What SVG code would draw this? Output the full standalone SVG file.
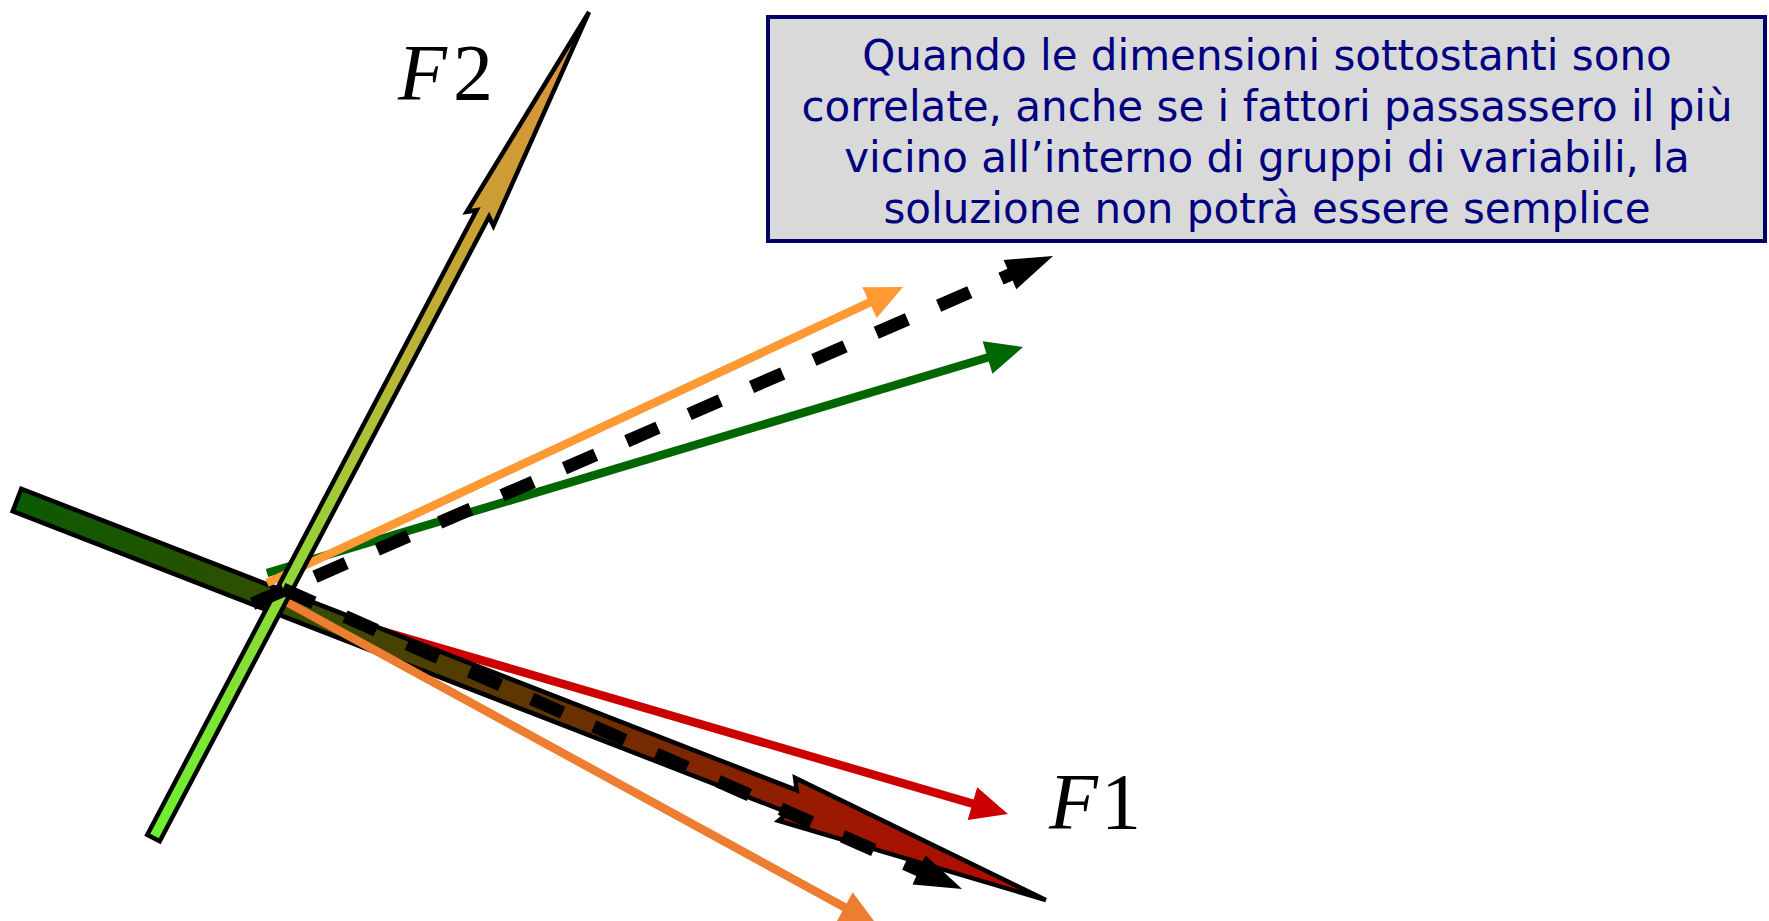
<svg xmlns="http://www.w3.org/2000/svg" width="1769" height="921" viewBox="0 0 1769 921">
<style>
.vec{fill:none;stroke-width:8.5;stroke-linecap:butt}
.dash{fill:none;stroke:#000;stroke-width:13;stroke-dasharray:34 34}
.axis{stroke:#000;stroke-width:4.5;stroke-linejoin:miter}
.lbl{font-family:"Liberation Serif","Times New Roman",serif;fill:#000}
.note{font-family:"DejaVu Sans",Verdana,sans-serif;font-size:42px;fill:#000080;text-anchor:middle}
</style>
<defs>
<linearGradient id="gF1" gradientUnits="userSpaceOnUse" x1="17" y1="500" x2="1046" y2="900">
<stop offset="0" stop-color="#0a5c00"/>
<stop offset="0.3" stop-color="#3a4a00"/>
<stop offset="0.55" stop-color="#6a3000"/>
<stop offset="0.8" stop-color="#9c1800"/>
<stop offset="1" stop-color="#b80800"/>
</linearGradient>
<linearGradient id="gF2" gradientUnits="userSpaceOnUse" x1="153" y1="838" x2="590" y2="12">
<stop offset="0" stop-color="#6cf030"/>
<stop offset="0.3" stop-color="#8ed838"/>
<stop offset="0.55" stop-color="#b8b838"/>
<stop offset="0.75" stop-color="#c8a033"/>
<stop offset="1" stop-color="#e0903a"/>
</linearGradient>
<marker id="hOrange" markerUnits="userSpaceOnUse" orient="auto" overflow="visible" markerWidth="1" markerHeight="1"><path d="M-1,-17 L36,0 L-1,17 Z" fill="#ff9933"/></marker>
<marker id="hGreen" markerUnits="userSpaceOnUse" orient="auto" overflow="visible" markerWidth="1" markerHeight="1"><path d="M-1,-17 L36,0 L-1,17 Z" fill="#006600"/></marker>
<marker id="hRed" markerUnits="userSpaceOnUse" orient="auto" overflow="visible" markerWidth="1" markerHeight="1"><path d="M-1,-17 L36,0 L-1,17 Z" fill="#cc0000"/></marker>
<marker id="hDarkOrange" markerUnits="userSpaceOnUse" orient="auto" overflow="visible" markerWidth="1" markerHeight="1"><path d="M-1,-17 L36,0 L-1,17 Z" fill="#ed7d31"/></marker>
<marker id="hBlack" markerUnits="userSpaceOnUse" orient="auto" overflow="visible" markerWidth="1" markerHeight="1"><path d="M-3,-16 L44,0 L-3,16 Z" fill="#000"/></marker>
</defs>
<rect width="1769" height="921" fill="#fff"/>
<g id="connectors-back">
<path class="vec" stroke="#cc0000" d="M279,601 L973.4,803.9" marker-end="url(#hRed)"/>
</g>
<g id="axis-f1">
<polygon class="axis" fill="url(#gF1)" points="21.3,488.8 796.7,790.2 795.1,777.9 1045.9,900 778.5,820.7 788.1,812.6 12.7,511.2"/>
</g>
<g id="connectors">
<path class="vec" stroke="#006600" d="M267,573 L988.5,357.3" marker-end="url(#hGreen)"/>
<path class="vec" stroke="#ff9933" d="M267,583 L870.4,302.2" marker-end="url(#hOrange)"/>
<path class="vec" stroke="#ed7d31" d="M283,600 L845.4,907.7" marker-end="url(#hDarkOrange)"/>
</g>
<g id="axis-f2">
<polygon class="axis" fill="url(#gF2)" stroke-width="4" points="147.3,834.7 476.6,210.2 466.8,211.8 589,12 493.4,225.8 489,216.8 159.7,841.3"/>
</g>
<g id="connectors-dashed">
<path class="dash" d="M252.6,603.8 L1012.7,273.5" marker-end="url(#hBlack)"/>
<path class="dash" d="M282.8,589 L921.8,871.2" marker-end="url(#hBlack)"/>
</g>
<g id="label-f2">
<text class="lbl" x="398" y="100" font-size="80"><tspan font-style="italic">F</tspan><tspan dx="6">2</tspan></text>
</g>
<g id="label-f1">
<text class="lbl" x="1049" y="829" font-size="80"><tspan font-style="italic">F</tspan><tspan dx="3">1</tspan></text>
</g>
<g id="note">
<rect x="768" y="17" width="997" height="224" fill="#d9d9d9" stroke="#000066" stroke-width="4"/>
<text class="note" x="1267" y="70">Quando le dimensioni sottostanti sono</text>
<text class="note" x="1267" y="121">correlate, anche se i fattori passassero il più</text>
<text class="note" x="1267" y="172">vicino all’interno di gruppi di variabili, la</text>
<text class="note" x="1267" y="223">soluzione non potrà essere semplice</text>
</g>
</svg>
